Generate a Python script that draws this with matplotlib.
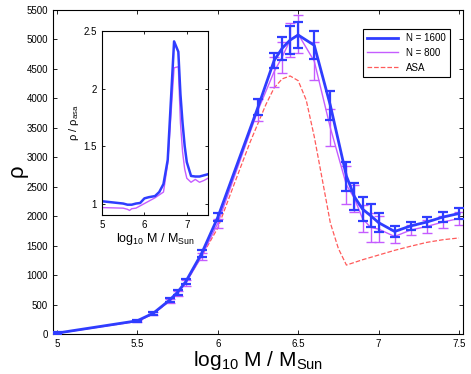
import numpy as np
import matplotlib
matplotlib.use('Agg')
import matplotlib.pyplot as plt
from matplotlib.lines import Line2D

plt.rcParams['font.family'] = ['Liberation Sans', 'DejaVu Sans']
plt.rcParams['mathtext.fontset'] = 'custom'
plt.rcParams['mathtext.rm'] = 'Liberation Sans'
plt.rcParams['mathtext.it'] = 'Liberation Sans'

# log10 M / M_sun grid of the simulations
logm = [5.0, 5.5, 5.6, 5.7, 5.75, 5.8, 5.9, 6.0, 6.25, 6.35, 6.4, 6.45, 6.5,
        6.6, 6.7, 6.8, 6.85, 6.9, 6.95, 7.0, 7.1, 7.2, 7.3, 7.4, 7.5]
rho_1600 = [15, 225, 355, 575, 710, 885, 1370, 1980, 3850, 4640, 4850, 4990, 5075,
            4900, 3880, 2680, 2330, 2120, 2010, 1890, 1740, 1835, 1900, 1985, 2045]
err_1600 = [15, 20, 25, 30, 40, 45, 55, 70, 135, 130, 195, 240, 220,
            240, 250, 245, 230, 205, 195, 160, 95, 70, 85, 85, 95]
rho_800 = [10, 215, 345, 560, 690, 860, 1320, 1880, 3800, 4450, 4700, 4990, 5090,
           4630, 3500, 2530, 2300, 1960, 1810, 1780, 1655, 1765, 1825, 1900, 1960]
err_800 = [15, 20, 25, 35, 45, 50, 60, 80, 190, 255, 265, 290, 320,
           320, 315, 320, 230, 230, 245, 220, 110, 85, 110, 100, 110]

# ASA curve
logm_asa = [5.0, 5.5, 5.6, 5.7, 5.75, 5.8, 5.9, 6.0, 6.1, 6.2, 6.3, 6.35, 6.4, 6.45,
            6.5, 6.55, 6.6, 6.65, 6.7, 6.75, 6.8, 6.9, 7.0, 7.1, 7.2, 7.3, 7.4, 7.5]
rho_asa = [10, 215, 345, 560, 695, 870, 1320, 1800, 2530, 3250, 3900, 4175, 4330, 4380,
           4300, 3970, 3350, 2620, 1885, 1450, 1170, 1260, 1340, 1420, 1490, 1555, 1600, 1630]

# inset: ratio to ASA
logm_r1 = [5.0, 5.5, 5.6, 5.7, 5.8, 5.9, 6.0, 6.1, 6.25, 6.35, 6.45, 6.55, 6.7, 6.8,
           6.85, 6.9, 6.95, 7.0, 7.1, 7.2, 7.3, 7.4, 7.5]
ratio_1600 = [1.02, 1.0, 0.99, 0.99, 1.0, 1.005, 1.045, 1.055, 1.065, 1.1, 1.17, 1.38, 2.41, 2.32,
              1.95, 1.7, 1.5, 1.36, 1.24, 1.235, 1.235, 1.245, 1.255]
logm_r2 = [5.0, 5.5, 5.6, 5.65, 5.7, 5.8, 6.0, 6.25, 6.45, 6.55, 6.7, 6.8,
           6.85, 6.9, 6.95, 7.0, 7.1, 7.2, 7.3, 7.4, 7.5]
ratio_800 = [0.965, 0.96, 0.95, 0.94, 0.955, 0.96, 1.0, 1.05, 1.1, 1.35, 2.18, 2.19,
             1.7, 1.45, 1.3, 1.22, 1.185, 1.21, 1.185, 1.2, 1.22]

blue = '#2f3dff'
purple = '#c55cff'
red = '#ff5a5a'

fig = plt.figure(figsize=(4.71, 3.74), dpi=100)
ax = fig.add_axes([0.1125, 0.107, 0.8705, 0.8663])

ax.plot(logm_asa, rho_asa, '--', color=red, linewidth=0.9, zorder=1)
ax.errorbar(logm, rho_800, yerr=err_800, color=purple, linewidth=1.0, elinewidth=1.0,
            capsize=3.5, capthick=1.0, zorder=2)
ax.errorbar(logm, rho_1600, yerr=err_1600, color=blue, linewidth=2.0, elinewidth=1.6,
            capsize=3.5, capthick=1.6, zorder=3)

ax.set_xlim(4.975, 7.525)
ax.set_ylim(0, 5500)
ax.set_xticks([5, 5.5, 6, 6.5, 7, 7.5])
ax.set_xticklabels(['5', '5.5', '6', '6.5', '7', '7.5'])
ax.set_yticks(np.arange(0, 5501, 500))
ax.tick_params(direction='in', top=True, right=True, labelsize=7, length=3, width=0.6)
ax.set_xlabel(r'$\mathrm{log_{10}\ M\ /\ M_{Sun}}$', fontsize=15, labelpad=0)
ax.set_ylabel(r'$\rho$', fontsize=16, labelpad=-3)

handles = [Line2D([], [], color=blue, linewidth=2.0),
           Line2D([], [], color=purple, linewidth=1.0),
           Line2D([], [], color=red, linewidth=0.9, linestyle='--')]
leg = ax.legend(handles, ['N = 1600', 'N = 800', 'ASA'], loc='upper right',
                bbox_to_anchor=(0.968, 0.941), borderaxespad=0, fontsize=7,
                fancybox=False, framealpha=1, edgecolor='black', handlelength=3.2)
leg.get_frame().set_linewidth(0.8)

ins = fig.add_axes([0.2166, 0.425, 0.225, 0.492])
ins.plot(logm_r2, ratio_800, color=purple, linewidth=1.0)
ins.plot(logm_r1, ratio_1600, color=blue, linewidth=1.8)
ins.set_xlim(5, 7.5)
ins.set_ylim(0.9, 2.5)
ins.set_xticks([5, 6, 7])
ins.set_yticks([1, 1.5, 2, 2.5])
ins.set_yticklabels(['1', '1.5', '2', '2.5'])
ins.tick_params(direction='in', top=True, right=True, labelsize=7, length=2.5, width=0.6)
ins.set_xlabel(r'$\mathrm{log_{10}\ M\ /\ M_{Sun}}$', fontsize=9, labelpad=1)
ins.set_ylabel(r'$\mathrm{\rho\ /\ \rho_{asa}}$', fontsize=8, labelpad=2)

fig.savefig('out.png', dpi=100)
